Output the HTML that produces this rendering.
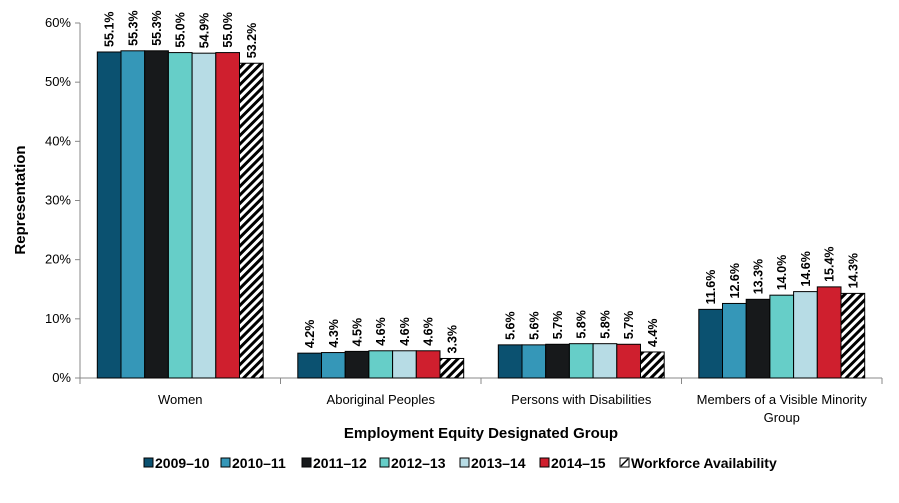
<!DOCTYPE html>
<html><head><meta charset="utf-8"><style>
body{margin:0;background:#fff;font-family:"Liberation Sans",Arial,sans-serif}
svg text{font-family:"Liberation Sans",Arial,sans-serif}
</style></head><body>
<svg id="c" width="899" height="498" xmlns="http://www.w3.org/2000/svg">
<defs><pattern id="hatch" patternUnits="userSpaceOnUse" width="6" height="6" patternTransform="rotate(45)"><rect width="6" height="6" fill="#fff"/><rect width="3" height="6" fill="#000"/></pattern></defs>
</svg>
<script>
const categories=["Women","Aboriginal Peoples","Persons with Disabilities","Members of a Visible Minority|Group"];
const seriesNames=["2009–10","2010–11","2011–12","2012–13","2013–14","2014–15","Workforce Availability"];
const s0=[55.1,4.2,5.6,11.6];
const s1=[55.3,4.3,5.6,12.6];
const s2=[55.3,4.5,5.7,13.3];
const s3=[55.0,4.6,5.8,14.0];
const s4=[54.9,4.6,5.8,14.6];
const s5=[55.0,4.6,5.7,15.4];
const s6=[53.2,3.3,4.4,14.3];
const yTicks=[0,10,20,30,40,50,60];
const series=[s0,s1,s2,s3,s4,s5,s6];
const colors=["#0b5170","#3597b8","#17191b","#66cec8","#b7dce5","#cf1f2e","url(#hatch)"];
const NS="http://www.w3.org/2000/svg";
const svg=document.getElementById('c');
const X0=80,X1=882,Y0=378,Y1=23;
const y=v=>Y0-(v/60)*(Y0-Y1);
const gw=(X1-X0)/categories.length, bw=23.7, off=(gw-bw*7)/2;
function el(t,a,p){const e=document.createElementNS(NS,t);for(const k in a)e.setAttribute(k,a[k]);(p||svg).appendChild(e);return e;}
let ax=el('line',{x1:X0,y1:Y1,x2:X0,y2:Y0,stroke:'#888'});


yTicks.forEach(t=>{
  const ln=el('line',{x1:X0-5,x2:X0,y1:y(t),y2:y(t),stroke:'#888'});
  
  
  const tx=el('text',{x:X0-9,y:y(t)+4,'text-anchor':'end','font-size':13,fill:'#000'});
  tx.textContent=t+'%';
  
  
});
let xa=el('line',{x1:X0,y1:Y0,x2:X1,y2:Y0,stroke:'#888'});


for(let i=0;i<=categories.length;i++){
  const l=el('line',{x1:X0+i*gw,x2:X0+i*gw,y1:Y0,y2:Y0+6,stroke:'#888'});
  
  
}
categories.forEach((c,i)=>{
  const parts=c.split('|');
  parts.forEach((p,j)=>{
    const t=el('text',{x:X0+gw*(i+0.5),y:404+j*18,'text-anchor':'middle','font-size':13});
    t.textContent=p;
    
    
  });
  series.forEach((s,k)=>{
    const bx=X0+gw*i+off+k*bw;
    const r=el('rect',{x:bx,y:y(s[i]),width:bw,height:Y0-y(s[i]),fill:colors[k],stroke:'#000','stroke-width':1});
    
    
    const cx=bx+bw/2+4.5, cy=y(s[i])-5;
    const t=el('text',{x:cx,y:cy,transform:`rotate(-90 ${cx} ${cy})`,'font-size':12.5,'font-weight':'bold'});
    t.textContent=s[i].toFixed(1)+'%';
    
    
  });
});
let yt=el('text',{x:25,y:200,transform:'rotate(-90 25 200)','text-anchor':'middle','font-size':15,'font-weight':'bold'});
yt.textContent='Representation';


let xt=el('text',{x:481,y:438,'text-anchor':'middle','font-size':15,'font-weight':'bold'});
xt.textContent='Employment Equity Designated Group';


const lx=[144,221,302,380,460,540,620];
seriesNames.forEach((n,k)=>{
  const g=el('g',{});
  
  
  el('rect',{x:lx[k],y:458,width:9,height:9,fill:colors[k]==='url(#hatch)'?'#fff':colors[k],stroke:'#000','stroke-width':1},g);
  if(k===6){el('line',{x1:lx[k]+1,y1:466,x2:lx[k]+8,y2:459,stroke:'#000','stroke-width':1.5},g);}
  const t=el('text',{x:lx[k]+11,y:468,'font-size':14,'font-weight':'bold'},g);
  t.textContent=n;
});
</script>
</body></html>
